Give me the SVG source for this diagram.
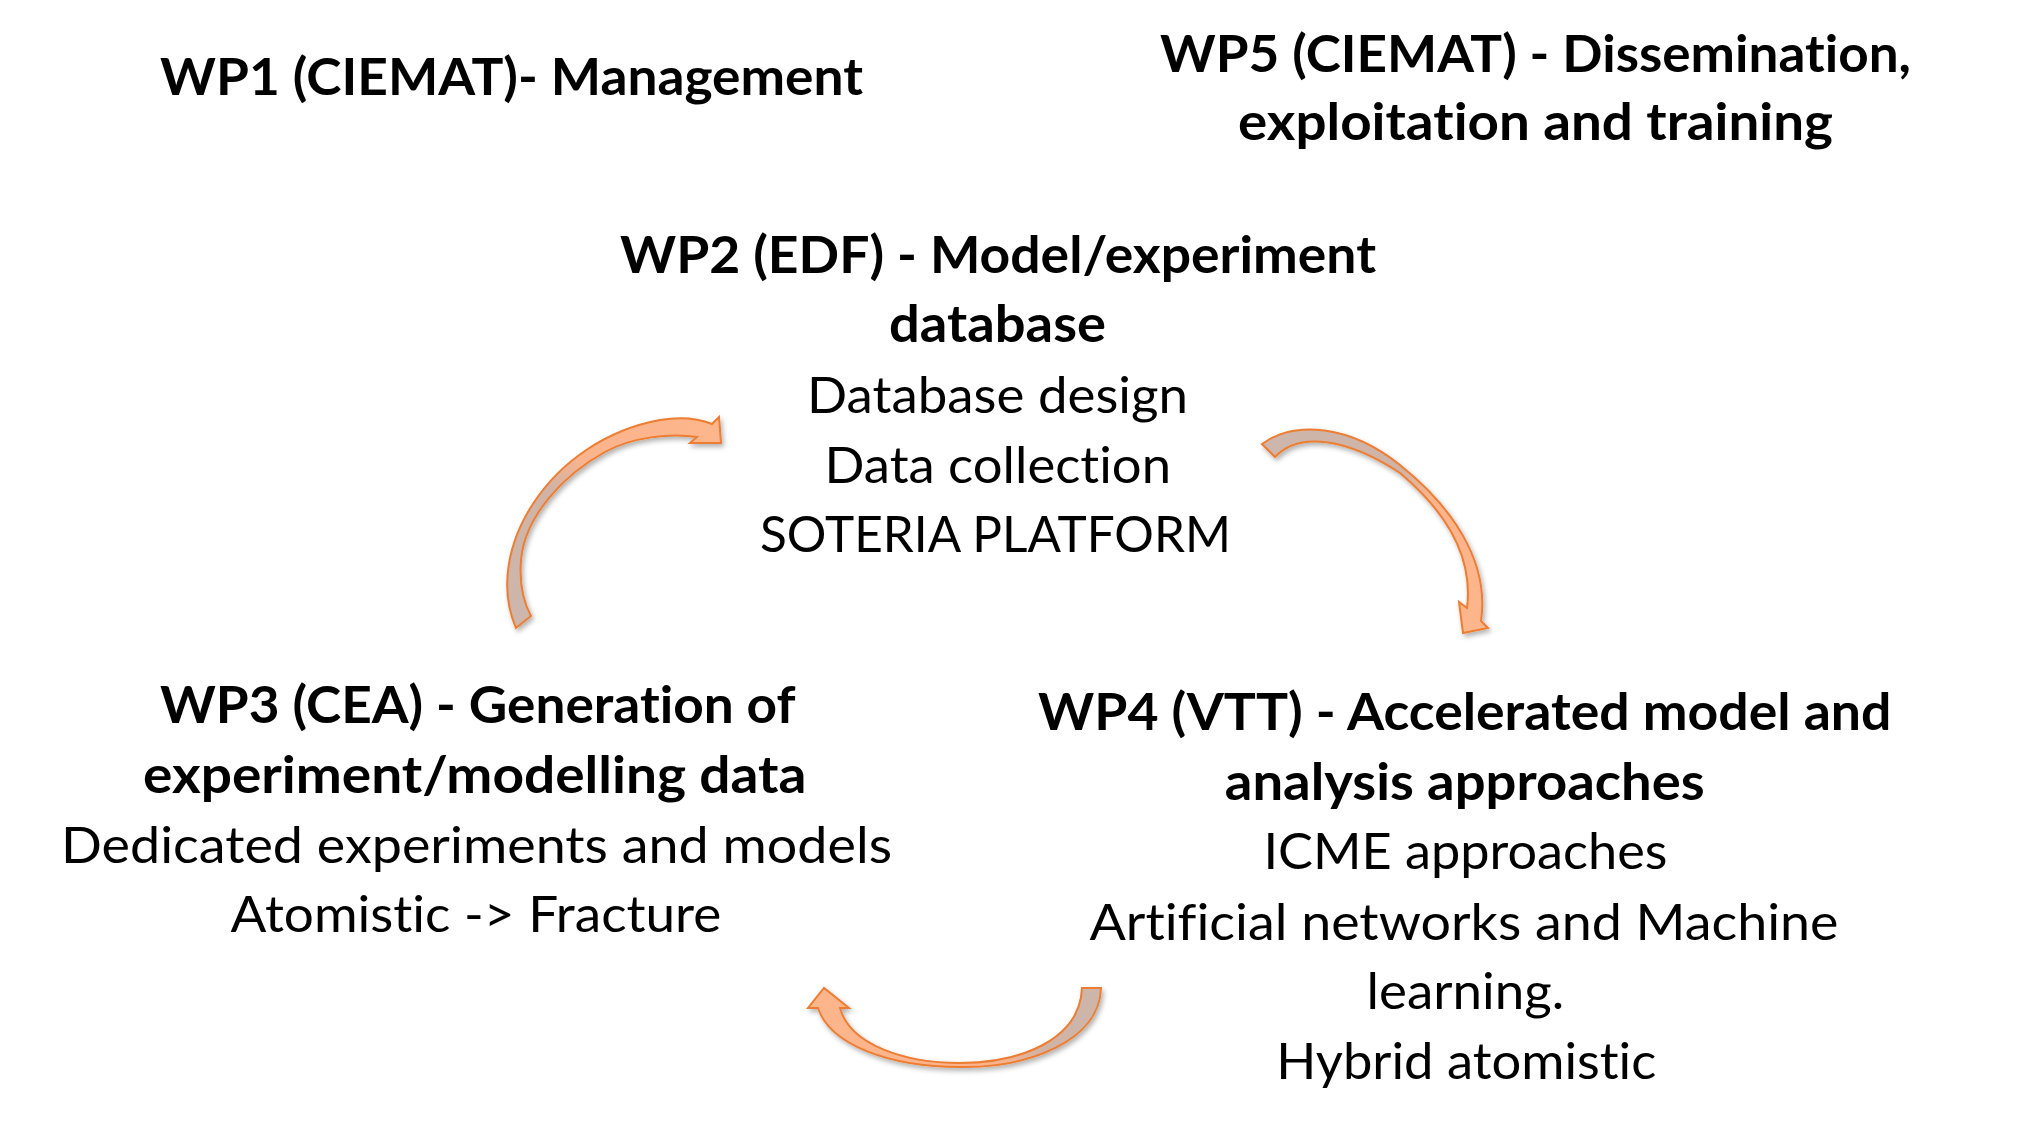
<svg xmlns="http://www.w3.org/2000/svg" width="2019" height="1133" viewBox="0 0 2019 1133">
<style>
text{font-family:Lato,"Open Sans","Liberation Sans",sans-serif;font-size:51px;fill:#000;font-variant-ligatures:none}
.b{font-weight:700}
.arrow{stroke:#ED7D31;stroke-width:2;stroke-linejoin:miter;filter:url(#sh)}
</style>
<defs>
<filter id="sh" x="-20%" y="-20%" width="140%" height="140%">
<feDropShadow dx="2" dy="3" stdDeviation="2.5" flood-color="#000" flood-opacity="0.3"/>
</filter>
<linearGradient id="g1" gradientUnits="userSpaceOnUse" x1="523" y1="622" x2="715" y2="430">
<stop offset="0" stop-color="#CDB6AB"/><stop offset="0.42" stop-color="#D0B3A5"/><stop offset="0.58" stop-color="#FBB48D"/><stop offset="1" stop-color="#FDB58B"/>
</linearGradient>
<linearGradient id="g2" gradientUnits="userSpaceOnUse" x1="1268" y1="450" x2="1470" y2="625">
<stop offset="0" stop-color="#CDB6AB"/><stop offset="0.42" stop-color="#D0B3A5"/><stop offset="0.58" stop-color="#FBB48D"/><stop offset="1" stop-color="#FDB58B"/>
</linearGradient>
<linearGradient id="g3" gradientUnits="userSpaceOnUse" x1="1101" y1="1000" x2="808" y2="1000">
<stop offset="0" stop-color="#CDB6AB"/><stop offset="0.2" stop-color="#D0B3A5"/><stop offset="0.36" stop-color="#FBB48D"/><stop offset="1" stop-color="#FDB58B"/>
</linearGradient>
</defs>
<rect width="2019" height="1133" fill="#fff"/>
<g id="connectors">
<path id="arrow-wp3-wp2" class="arrow" fill="url(#g1)" d="M516,628 C482,550 550,440 660,420 Q690,415 712,424 L719,417 L721,443 L690,443 L697,437 C670,433 632,437 605,452 C565,474 525,515 521,560 C519,585 524,603 531,616 Z"/>
<path id="arrow-wp2-wp4" class="arrow" fill="url(#g2)" d="M1262,444 C1295,420 1350,425 1400,465 C1450,505 1490,560 1481,621 L1488,628 L1463,633 L1459,602 L1467,608 C1473,560 1450,515 1400,473 C1350,440 1300,430 1275,457 Z"/>
<path id="arrow-wp4-wp3" class="arrow" fill="url(#g3)" d="M1101,988 C1100,1040 1030,1068 960,1067 C890,1067 830,1045 818,1008 L808,1008 L824,988 L849,1008 L840,1008 C850,1045 905,1063 960,1063 C1020,1063 1080,1040 1082,988 Z"/>
</g>
<g id="wp1">
<text class="b" x="160" y="95" textLength="703" lengthAdjust="spacingAndGlyphs">WP1 (CIEMAT)- Management</text>
</g>
<g id="wp5">
<text class="b" x="1160" y="71.5" textLength="751" lengthAdjust="spacingAndGlyphs">WP5 (CIEMAT) - Dissemination,</text>
<text class="b" x="1238" y="140" textLength="595" lengthAdjust="spacingAndGlyphs">exploitation and training</text>
</g>
<g id="wp2">
<text class="b" x="620" y="273" textLength="756" lengthAdjust="spacingAndGlyphs">WP2 (EDF) - Model/experiment</text>
<text class="b" x="889" y="342" textLength="217" lengthAdjust="spacingAndGlyphs">database</text>
<text x="807" y="412.6" textLength="381" lengthAdjust="spacingAndGlyphs">Database design</text>
<text x="824.5" y="483" textLength="346.5" lengthAdjust="spacingAndGlyphs">Data collection</text>
<text x="760" y="552" textLength="471" lengthAdjust="spacingAndGlyphs">SOTERIA PLATFORM</text>
</g>
<g id="wp3">
<text class="b" x="160" y="723" textLength="635.5" lengthAdjust="spacingAndGlyphs">WP3 (CEA) - Generation of</text>
<text class="b" x="143" y="793.4" textLength="663.5" lengthAdjust="spacingAndGlyphs">experiment/modelling data</text>
<text x="61" y="862.8" textLength="831" lengthAdjust="spacingAndGlyphs">Dedicated experiments and models</text>
<text x="230.6" y="932.4" textLength="490.8" lengthAdjust="spacingAndGlyphs">Atomistic -&gt; Fracture</text>
</g>
<g id="wp4">
<text class="b" x="1038" y="730.3" textLength="853.4" lengthAdjust="spacingAndGlyphs">WP4 (VTT) - Accelerated model and</text>
<text class="b" x="1224.8" y="800" textLength="479.8" lengthAdjust="spacingAndGlyphs">analysis approaches</text>
<text x="1263.4" y="869.2" textLength="404" lengthAdjust="spacingAndGlyphs">ICME approaches</text>
<text x="1089.5" y="939.6" textLength="749" lengthAdjust="spacingAndGlyphs">Artificial networks and Machine</text>
<text x="1366.5" y="1009.3" textLength="197.7" lengthAdjust="spacingAndGlyphs">learning.</text>
<text x="1276.3" y="1078.6" textLength="380" lengthAdjust="spacingAndGlyphs">Hybrid atomistic</text>
</g>
</svg>
